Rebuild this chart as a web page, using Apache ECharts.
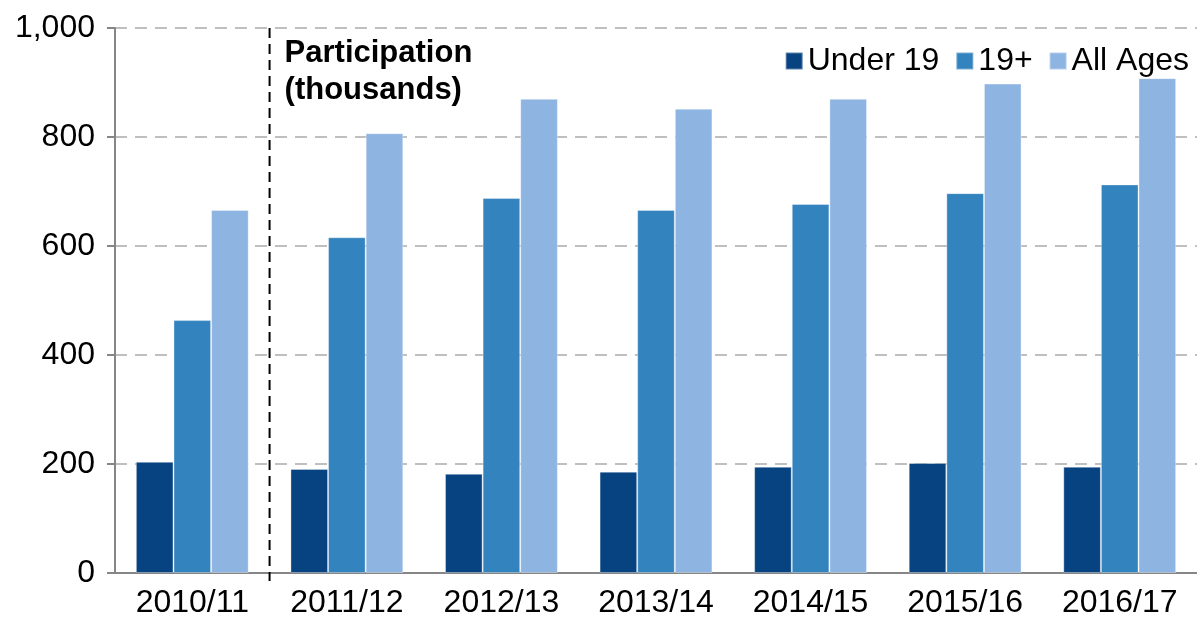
<!DOCTYPE html>
<html>
<head>
  <meta charset="utf-8">
  <title>Participation</title>
  <script src="https://cdn.jsdelivr.net/npm/echarts@6/dist/echarts.min.js"></script>
  <style>
    html, body { margin: 0; padding: 0; background: #fff; }
    #chart { width: 1197px; height: 624px; }
  </style>
</head>
<body>
  <div id="chart"></div>
  <script>
    // data (thousands)
    const years = ['2010/11', '2011/12', '2012/13', '2013/14', '2014/15', '2015/16', '2016/17'];
    const under19 = [204, 191, 182, 186, 195, 202, 195];
    const over19 = [464, 616, 688, 666, 677, 697, 713];
    const allAges = [666, 807, 870, 852, 870, 898, 908];

    const chart = echarts.init(document.getElementById('chart'));
    const font = 'Liberation Sans, Arial, sans-serif';

    function bar(name, data, color) {
      return {
        name: name,
        type: 'bar',
        data: data,
        barGap: '0%',
        barCategoryGap: '27%',
        itemStyle: { color: color, borderColor: 'rgba(255,255,255,0.35)', borderWidth: 1 }
      };
    }

    chart.setOption({
      animation: false,
      textStyle: { fontFamily: font },
      grid: { left: 115, right: 0, top: 28, bottom: 51 },
      legend: {
        right: 3,
        top: 40,
        itemWidth: 17,
        itemHeight: 17,
        itemGap: 16,
        icon: 'rect',
        textStyle: { fontSize: 32, color: '#000', fontFamily: font },
        data: ['Under 19', '19+', 'All Ages']
      },
      xAxis: {
        type: 'category',
        data: years,
        axisLine: { lineStyle: { color: '#868686', width: 2 } },
        axisTick: { length: 8, lineStyle: { color: '#868686', width: 2 } },
        axisLabel: { fontSize: 32, color: '#000', margin: 14 }
      },
      yAxis: {
        type: 'value',
        min: 0,
        max: 1000,
        interval: 200,
        axisLine: { show: true, lineStyle: { color: '#868686', width: 2 } },
        axisTick: { show: true, length: 8, lineStyle: { color: '#868686', width: 2 } },
        axisLabel: {
          fontSize: 32, color: '#000', margin: 20,
          formatter: v => v.toLocaleString('en-US')
        },
        splitLine: { lineStyle: { color: '#BFBFBF', width: 2, type: [12, 8] } }
      },
      series: [
        bar('Under 19', under19, '#084381'),
        bar('19+', over19, '#3383BF'),
        bar('All Ages', allAges, '#8EB4E2')
      ]
    });

    // dashed divider between 2010/11 and 2011/12, plus the chart label
    const p0 = chart.convertToPixel({ xAxisIndex: 0 }, years[0]);
    const p1 = chart.convertToPixel({ xAxisIndex: 0 }, years[1]);
    const xMid = (p0 + p1) / 2;
    const yTop = chart.convertToPixel({ yAxisIndex: 0 }, 1000);
    const yBot = chart.convertToPixel({ yAxisIndex: 0 }, 0);
    chart.setOption({
      graphic: [
        {
          type: 'line',
          shape: { x1: xMid, y1: yTop, x2: xMid, y2: yBot + 8 },
          style: { stroke: '#000', lineWidth: 2, lineDash: [10, 6] },
          z: 10
        },
        {
          type: 'text',
          left: xMid + 15,
          top: yTop + 7,
          style: {
            text: 'Participation\n(thousands)',
            font: 'bold 31px ' + font,
            fill: '#000',
            lineHeight: 37
          },
          z: 10
        }
      ]
    });
  </script>
</body>
</html>
